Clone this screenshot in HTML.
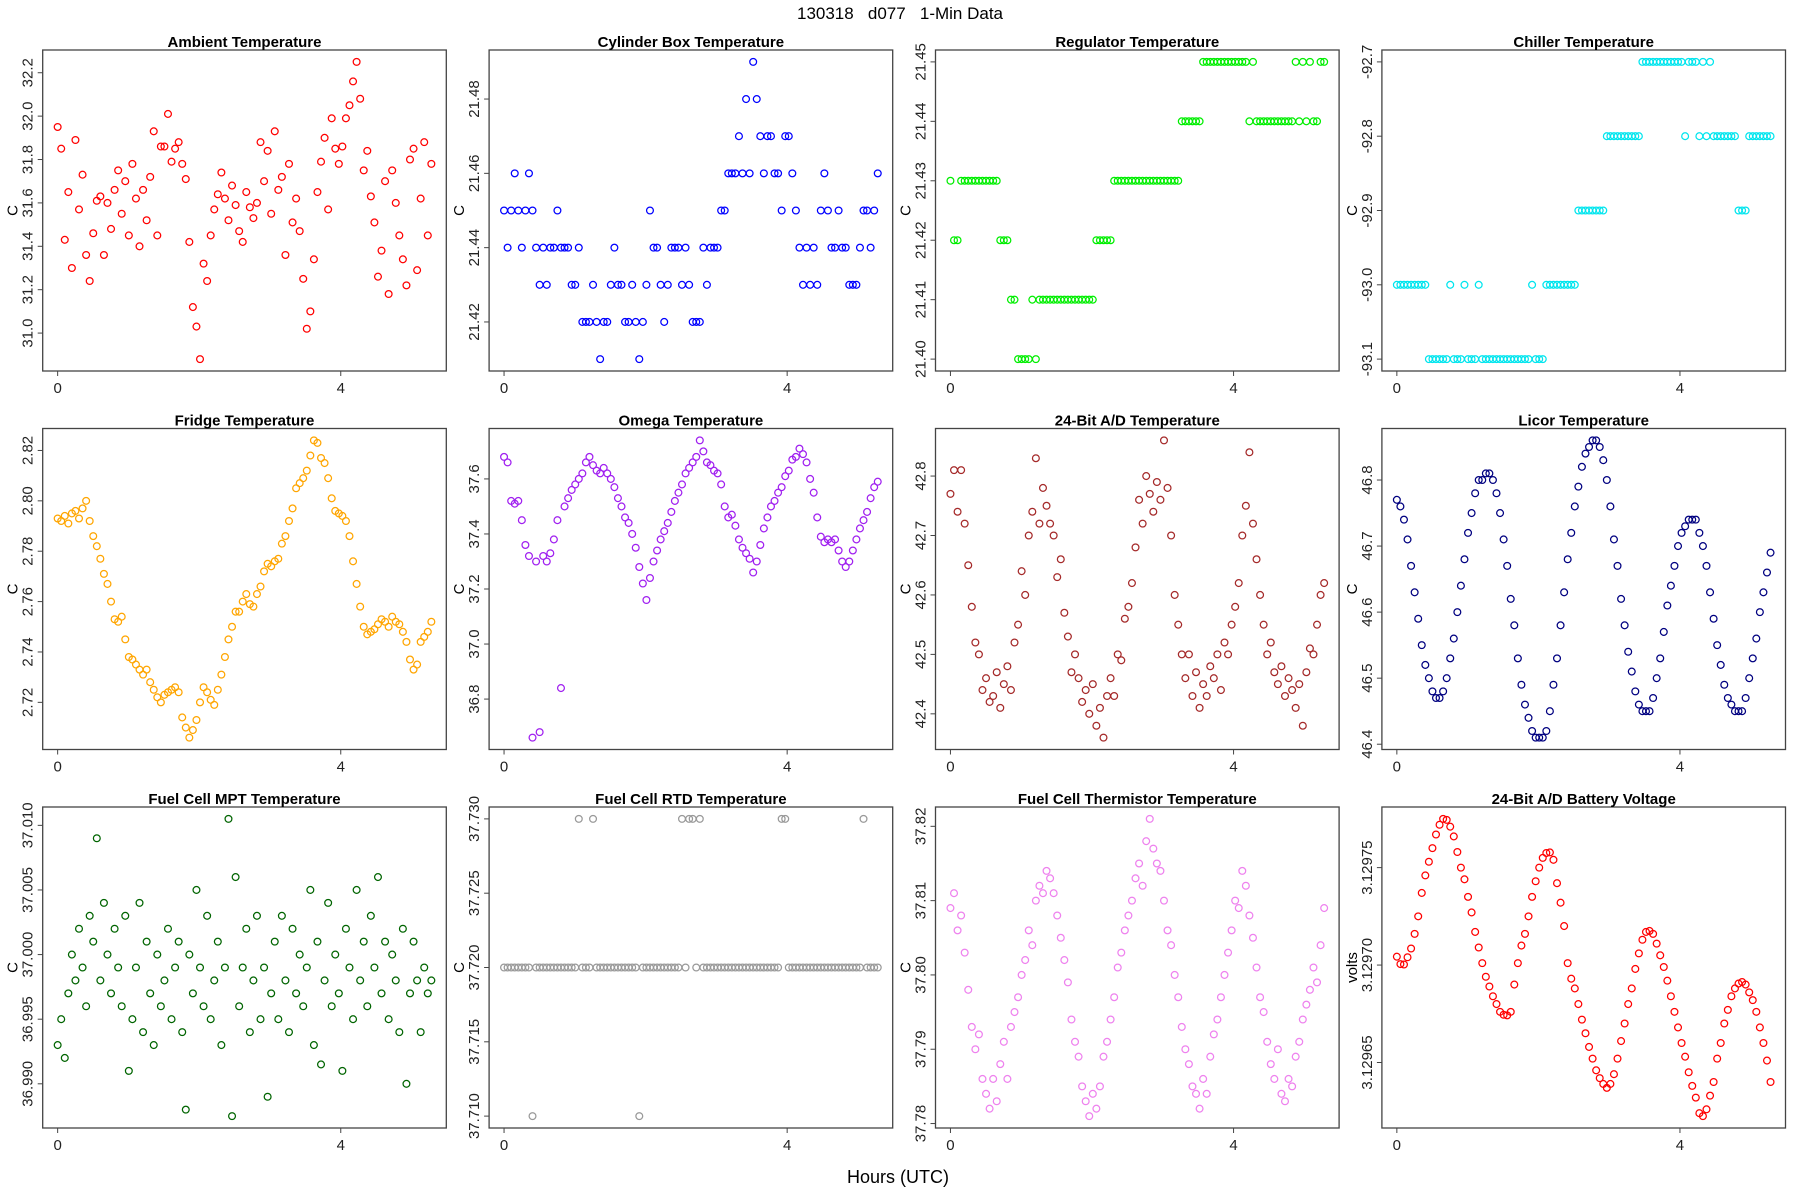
<!DOCTYPE html>
<html><head><meta charset="utf-8"><title>130318 d077 1-Min Data</title>
<style>
html,body{margin:0;padding:0;background:#fff;}
svg{display:block;font-family:"Liberation Sans",sans-serif;}
</style></head>
<body>
<svg id="fig" width="1800" height="1200" viewBox="0 0 1800 1200" xmlns="http://www.w3.org/2000/svg">
<rect width="1800" height="1200" fill="#fff"/>
<text x="900" y="19" text-anchor="middle" font-size="17" fill="#000" style="white-space:pre" xml:space="preserve">130318   d077   1-Min Data</text>
<text x="898" y="1183" text-anchor="middle" font-size="18" fill="#000">Hours (UTC)</text>
</svg>
<script>
const N = 106;
const hourSpan = 5.28;
const hours = Array.from({length: N}, (_, i) => i * hourSpan / (N - 1));
const xTicks = [0, 4];

const ambient = [31.95,31.85,31.43,31.65,31.30,31.89,31.57,31.73,31.36,31.24,
31.46,31.61,31.63,31.36,31.60,31.48,31.66,31.75,31.55,31.70,
31.45,31.78,31.62,31.40,31.66,31.52,31.72,31.93,31.45,31.86,
31.86,32.01,31.79,31.85,31.88,31.78,31.71,31.42,31.12,31.03,
30.88,31.32,31.24,31.45,31.57,31.64,31.74,31.62,31.52,31.68,
31.59,31.47,31.42,31.65,31.58,31.53,31.60,31.88,31.70,31.84,
31.55,31.93,31.66,31.72,31.36,31.78,31.51,31.62,31.47,31.25,
31.02,31.10,31.34,31.65,31.79,31.90,31.57,31.99,31.85,31.78,
31.86,31.99,32.05,32.16,32.25,32.08,31.75,31.84,31.63,31.51,
31.26,31.38,31.70,31.18,31.75,31.60,31.45,31.34,31.22,31.80,
31.85,31.29,31.62,31.88,31.45,31.78];
const ambientTicks = ["31.0","31.2","31.4","31.6","31.8","32.0","32.2"];

const cylinder = [21.45,21.44,21.45,21.46,21.45,21.44,21.45,21.46,21.45,21.44,
21.43,21.44,21.43,21.44,21.44,21.45,21.44,21.44,21.44,21.43,
21.43,21.44,21.42,21.42,21.42,21.43,21.42,21.41,21.42,21.42,
21.43,21.44,21.43,21.43,21.42,21.42,21.43,21.42,21.41,21.42,
21.43,21.45,21.44,21.44,21.43,21.42,21.43,21.44,21.44,21.44,
21.43,21.44,21.43,21.42,21.42,21.42,21.44,21.43,21.44,21.44,
21.44,21.45,21.45,21.46,21.46,21.46,21.47,21.46,21.48,21.46,
21.49,21.48,21.47,21.46,21.47,21.47,21.46,21.46,21.45,21.47,
21.47,21.46,21.45,21.44,21.43,21.44,21.43,21.44,21.43,21.45,
21.46,21.45,21.44,21.44,21.45,21.44,21.44,21.43,21.43,21.43,
21.44,21.45,21.45,21.44,21.45,21.46];
const cylinderTicks = ["21.42","21.44","21.46","21.48"];

const regulator = [21.43,21.42,21.42,21.43,21.43,21.43,21.43,21.43,21.43,21.43,
21.43,21.43,21.43,21.43,21.42,21.42,21.42,21.41,21.41,21.40,
21.40,21.40,21.40,21.41,21.40,21.41,21.41,21.41,21.41,21.41,
21.41,21.41,21.41,21.41,21.41,21.41,21.41,21.41,21.41,21.41,
21.41,21.42,21.42,21.42,21.42,21.42,21.43,21.43,21.43,21.43,
21.43,21.43,21.43,21.43,21.43,21.43,21.43,21.43,21.43,21.43,
21.43,21.43,21.43,21.43,21.43,21.44,21.44,21.44,21.44,21.44,
21.44,21.45,21.45,21.45,21.45,21.45,21.45,21.45,21.45,21.45,
21.45,21.45,21.45,21.45,21.44,21.45,21.44,21.44,21.44,21.44,
21.44,21.44,21.44,21.44,21.44,21.44,21.44,21.45,21.44,21.45,
21.44,21.45,21.44,21.44,21.45,21.45];
const regulatorTicks = ["21.40","21.41","21.42","21.43","21.44","21.45"];

const chiller = [-93.0,-93.0,-93.0,-93.0,-93.0,-93.0,-93.0,-93.0,-93.0,-93.1,
-93.1,-93.1,-93.1,-93.1,-93.1,-93.0,-93.1,-93.1,-93.1,-93.0,
-93.1,-93.1,-93.1,-93.0,-93.1,-93.1,-93.1,-93.1,-93.1,-93.1,
-93.1,-93.1,-93.1,-93.1,-93.1,-93.1,-93.1,-93.1,-93.0,-93.1,
-93.1,-93.1,-93.0,-93.0,-93.0,-93.0,-93.0,-93.0,-93.0,-93.0,
-93.0,-92.9,-92.9,-92.9,-92.9,-92.9,-92.9,-92.9,-92.9,-92.8,
-92.8,-92.8,-92.8,-92.8,-92.8,-92.8,-92.8,-92.8,-92.8,-92.7,
-92.7,-92.7,-92.7,-92.7,-92.7,-92.7,-92.7,-92.7,-92.7,-92.7,
-92.7,-92.8,-92.7,-92.7,-92.7,-92.8,-92.7,-92.8,-92.7,-92.8,
-92.8,-92.8,-92.8,-92.8,-92.8,-92.8,-92.9,-92.9,-92.9,-92.8,
-92.8,-92.8,-92.8,-92.8,-92.8,-92.8];
const chillerTicks = ["-93.1","-93.0","-92.9","-92.8","-92.7"];

const fridge = [2.793,2.792,2.794,2.791,2.795,2.796,2.793,2.797,2.800,2.792,
2.786,2.782,2.777,2.771,2.767,2.760,2.753,2.752,2.754,2.745,
2.738,2.737,2.735,2.733,2.731,2.733,2.728,2.725,2.722,2.720,
2.723,2.724,2.725,2.726,2.724,2.714,2.710,2.706,2.709,2.713,
2.720,2.726,2.724,2.721,2.719,2.725,2.731,2.738,2.745,2.750,
2.756,2.756,2.760,2.763,2.759,2.758,2.763,2.766,2.772,2.775,
2.774,2.776,2.777,2.783,2.786,2.792,2.797,2.805,2.807,2.809,
2.812,2.818,2.824,2.823,2.817,2.815,2.809,2.801,2.796,2.795,
2.794,2.792,2.786,2.776,2.767,2.758,2.750,2.747,2.748,2.749,
2.751,2.753,2.752,2.750,2.754,2.752,2.751,2.748,2.744,2.737,
2.733,2.735,2.744,2.746,2.748,2.752];
const fridgeTicks = ["2.72","2.74","2.76","2.78","2.80","2.82"];

const omega = [37.68,37.66,37.52,37.51,37.52,37.45,37.36,37.32,36.66,37.30,
36.68,37.32,37.30,37.33,37.38,37.45,36.84,37.50,37.53,37.56,
37.58,37.60,37.62,37.66,37.68,37.65,37.63,37.62,37.64,37.62,
37.60,37.57,37.53,37.50,37.46,37.44,37.40,37.35,37.28,37.22,
37.16,37.24,37.30,37.34,37.38,37.41,37.44,37.48,37.52,37.55,
37.58,37.62,37.64,37.66,37.68,37.74,37.70,37.66,37.65,37.63,
37.62,37.58,37.50,37.46,37.47,37.43,37.38,37.35,37.33,37.31,
37.26,37.30,37.36,37.42,37.46,37.50,37.52,37.55,37.57,37.61,
37.63,37.67,37.68,37.71,37.69,37.66,37.60,37.55,37.46,37.39,
37.37,37.38,37.37,37.38,37.34,37.30,37.28,37.30,37.34,37.38,
37.42,37.45,37.48,37.53,37.57,37.59];
const omegaTicks = ["36.8","37.0","37.2","37.4","37.6"];

const adTemp = [42.77,42.81,42.74,42.81,42.72,42.65,42.58,42.52,42.50,42.44,
42.46,42.42,42.43,42.47,42.41,42.45,42.48,42.44,42.52,42.55,
42.64,42.60,42.70,42.74,42.83,42.72,42.78,42.75,42.72,42.70,
42.63,42.66,42.57,42.53,42.47,42.50,42.46,42.42,42.44,42.40,
42.45,42.38,42.41,42.36,42.43,42.46,42.43,42.50,42.49,42.56,
42.58,42.62,42.68,42.76,42.72,42.80,42.77,42.74,42.79,42.76,
42.86,42.78,42.70,42.60,42.55,42.50,42.46,42.50,42.43,42.47,
42.41,42.45,42.43,42.48,42.46,42.50,42.44,42.52,42.50,42.55,
42.58,42.62,42.70,42.75,42.84,42.72,42.66,42.60,42.55,42.50,
42.52,42.47,42.45,42.48,42.43,42.46,42.44,42.41,42.45,42.38,
42.47,42.51,42.50,42.55,42.60,42.62];
const adTempTicks = ["42.4","42.5","42.6","42.7","42.8"];

const licor = [46.77,46.76,46.74,46.71,46.67,46.63,46.59,46.55,46.52,46.50,46.48,46.47,46.47,
46.48,46.50,46.53,46.56,46.60,46.64,46.68,46.72,46.75,46.78,46.80,46.80,46.81,46.81,
46.80,46.78,46.75,46.71,46.67,46.62,46.58,46.53,46.49,46.46,46.44,46.42,46.41,46.41,46.41,
46.42,46.45,46.49,46.53,46.58,46.63,46.68,46.72,46.76,46.79,46.82,46.84,46.85,46.86,46.86,
46.85,46.83,46.80,46.76,46.71,46.67,46.62,46.58,46.54,46.51,46.48,46.46,46.45,46.45,46.45,
46.47,46.50,46.53,46.57,46.61,46.64,46.67,46.70,46.72,46.73,46.74,46.74,46.74,
46.72,46.70,46.67,46.63,46.59,46.55,46.52,46.49,46.47,46.46,46.45,46.45,46.45,
46.47,46.50,46.53,46.56,46.60,46.63,46.66,46.69];
const licorTicks = ["46.4","46.5","46.6","46.7","46.8"];

const mpt = [36.993,36.995,36.992,36.997,37.000,36.998,37.002,36.999,36.996,37.003,
37.001,37.009,36.998,37.004,37.000,36.997,37.002,36.999,36.996,37.003,
36.991,36.995,36.999,37.004,36.994,37.001,36.997,36.993,37.000,36.996,
36.998,37.002,36.995,36.999,37.001,36.994,36.988,37.000,36.997,37.005,
36.999,36.996,37.003,36.995,36.998,37.001,36.993,36.999,37.0105,36.9875,
37.006,36.996,36.999,37.002,36.994,36.998,37.003,36.995,36.999,36.989,
36.997,37.001,36.995,37.003,36.998,36.994,37.002,36.997,37.000,36.996,
36.999,37.005,36.993,37.001,36.9915,36.998,37.004,36.996,37.000,36.997,
36.991,37.002,36.999,36.995,37.005,36.998,37.001,36.996,37.003,36.999,
37.006,36.997,37.001,36.995,37.000,36.998,36.994,37.002,36.990,36.997,
37.001,36.998,36.994,36.999,36.997,36.998];
const mptTicks = ["36.990","36.995","37.000","37.005","37.010"];

const rtd = [37.72,37.72,37.72,37.72,37.72,37.72,37.72,37.72,37.71,37.72,
37.72,37.72,37.72,37.72,37.72,37.72,37.72,37.72,37.72,37.72,
37.72,37.73,37.72,37.72,37.72,37.73,37.72,37.72,37.72,37.72,
37.72,37.72,37.72,37.72,37.72,37.72,37.72,37.72,37.71,37.72,
37.72,37.72,37.72,37.72,37.72,37.72,37.72,37.72,37.72,37.72,
37.73,37.72,37.73,37.73,37.72,37.73,37.72,37.72,37.72,37.72,
37.72,37.72,37.72,37.72,37.72,37.72,37.72,37.72,37.72,37.72,
37.72,37.72,37.72,37.72,37.72,37.72,37.72,37.72,37.73,37.73,
37.72,37.72,37.72,37.72,37.72,37.72,37.72,37.72,37.72,37.72,
37.72,37.72,37.72,37.72,37.72,37.72,37.72,37.72,37.72,37.72,
37.72,37.73,37.72,37.72,37.72,37.72];
const rtdTicks = ["37.710","37.715","37.720","37.725","37.730"];

const thermistor = [37.809,37.811,37.806,37.808,37.803,37.798,37.793,37.790,37.792,37.786,
37.784,37.782,37.786,37.783,37.788,37.791,37.786,37.793,37.795,37.797,
37.800,37.802,37.806,37.804,37.810,37.812,37.811,37.814,37.813,37.811,
37.808,37.805,37.802,37.799,37.794,37.791,37.789,37.785,37.783,37.781,
37.784,37.782,37.785,37.789,37.791,37.794,37.797,37.801,37.803,37.806,
37.808,37.810,37.813,37.815,37.812,37.818,37.821,37.817,37.815,37.814,
37.810,37.806,37.804,37.800,37.797,37.793,37.790,37.788,37.785,37.784,
37.782,37.786,37.784,37.789,37.792,37.794,37.797,37.800,37.803,37.806,
37.810,37.809,37.814,37.812,37.808,37.805,37.801,37.797,37.795,37.791,
37.788,37.786,37.790,37.784,37.783,37.786,37.785,37.789,37.791,37.794,
37.796,37.798,37.801,37.799,37.804,37.809];
const thermistorTicks = ["37.78","37.79","37.80","37.81","37.82"];

const battery = [3.1297043,3.1297005,3.1297003,3.1297040,3.1297085,3.1297160,3.1297250,3.1297370,3.1297460,3.1297530,
3.1297600,3.1297670,3.1297720,3.1297750,3.1297745,3.1297710,3.1297660,3.1297580,3.1297500,3.1297440,
3.1297350,3.1297270,3.1297170,3.1297090,3.1297010,3.1296940,3.1296890,3.1296840,3.1296800,3.1296760,
3.1296745,3.1296742,3.1296760,3.1296900,3.1297010,3.1297100,3.1297160,3.1297250,3.1297350,3.1297430,
3.1297500,3.1297550,3.1297575,3.1297578,3.1297540,3.1297420,3.1297320,3.1297200,3.1297010,3.1296930,
3.1296880,3.1296800,3.1296720,3.1296650,3.1296580,3.1296520,3.1296460,3.1296420,3.1296390,3.1296370,
3.1296390,3.1296440,3.1296520,3.1296610,3.1296700,3.1296800,3.1296880,3.1296980,3.1297060,3.1297130,
3.1297170,3.1297175,3.1297160,3.1297110,3.1297050,3.1296990,3.1296920,3.1296840,3.1296760,3.1296680,
3.1296600,3.1296530,3.1296450,3.1296380,3.1296320,3.1296240,3.1296225,3.1296260,3.1296330,3.1296400,
3.1296520,3.1296600,3.1296700,3.1296770,3.1296840,3.1296880,3.1296905,3.1296913,3.1296900,3.1296860,
3.1296820,3.1296760,3.1296680,3.1296600,3.1296510,3.1296400];
const batteryTicks = ["3.12965","3.12970","3.12975"];

const panels = [
 {name:"ambient-temperature", title:"Ambient Temperature", ylab:"C", data:ambient, ticks:ambientTicks, color:"#ff0000"},
 {name:"cylinder-box-temperature", title:"Cylinder Box Temperature", ylab:"C", data:cylinder, ticks:cylinderTicks, color:"#0000ff"},
 {name:"regulator-temperature", title:"Regulator Temperature", ylab:"C", data:regulator, ticks:regulatorTicks, color:"#00ee00"},
 {name:"chiller-temperature", title:"Chiller Temperature", ylab:"C", data:chiller, ticks:chillerTicks, color:"#00e5ee"},
 {name:"fridge-temperature", title:"Fridge Temperature", ylab:"C", data:fridge, ticks:fridgeTicks, color:"#ffa500"},
 {name:"omega-temperature", title:"Omega Temperature", ylab:"C", data:omega, ticks:omegaTicks, color:"#a020f0"},
 {name:"ad-temperature", title:"24-Bit A/D Temperature", ylab:"C", data:adTemp, ticks:adTempTicks, color:"#a52a2a"},
 {name:"licor-temperature", title:"Licor Temperature", ylab:"C", data:licor, ticks:licorTicks, color:"#000080"},
 {name:"fuel-cell-mpt-temperature", title:"Fuel Cell MPT Temperature", ylab:"C", data:mpt, ticks:mptTicks, color:"#006400"},
 {name:"fuel-cell-rtd-temperature", title:"Fuel Cell RTD Temperature", ylab:"C", data:rtd, ticks:rtdTicks, color:"#999999"},
 {name:"fuel-cell-thermistor-temperature", title:"Fuel Cell Thermistor Temperature", ylab:"C", data:thermistor, ticks:thermistorTicks, color:"#ee82ee"},
 {name:"ad-battery-voltage", title:"24-Bit A/D Battery Voltage", ylab:"volts", data:battery, ticks:batteryTicks, color:"#ff0000"}
];

const NS = "http://www.w3.org/2000/svg";
const svg = document.getElementById("fig");
function mk(tag, attrs, parent) {
  const e = document.createElementNS(NS, tag);
  for (const k in attrs) e.setAttribute(k, attrs[k]);
  parent.appendChild(e);
  return e;
}
const L0 = 42.7, T0 = 50, DX = 446.4, DY = 378.5, W = 403.6, H = 321;
panels.forEach((p, k) => {
  const col = k % 4, row = Math.floor(k / 4);
  const left = L0 + col * DX, top = T0 + row * DY;
  const g = mk("g", {}, svg);
  
  
  const xmin = Math.min(...hours), xmax = Math.max(...hours);
  const xpad = (xmax - xmin) * 0.04;
  const xs = v => left + (v - (xmin - xpad)) / ((xmax - xmin) + 2 * xpad) * W;
  const ymin = Math.min(...p.data), ymax = Math.max(...p.data);
  const ypad = (ymax - ymin) * 0.04;
  const ys = v => top + H - (v - (ymin - ypad)) / ((ymax - ymin) + 2 * ypad) * H;

  const pts = mk("g", {fill: "none", stroke: p.color, "stroke-width": 1.25}, g);
  
  
  p.data.forEach((v, i) => {
    const c = mk("circle", {cx: xs(hours[i]).toFixed(2), cy: ys(v).toFixed(2), r: 3.4}, pts);
    
    
  });

  const box = mk("rect", {x: left, y: top, width: W, height: H, fill: "none", stroke: "#444", "stroke-width": 1.3}, g);
  
  

  const t = mk("text", {x: left + W / 2, y: top - 3, "text-anchor": "middle", "font-size": 15, "font-weight": "bold", fill: "#000"}, g);
  t.textContent = p.title;
  
  

  const yl = mk("text", {x: 0, y: 0, "text-anchor": "middle", "font-size": 15, fill: "#000", transform: `translate(${left - 25},${top + H / 2}) rotate(-90)`}, g);
  yl.textContent = p.ylab;
  
  

  p.ticks.forEach(lbl => {
    const y = ys(parseFloat(lbl));
    const tk = mk("line", {x1: left, x2: left - 5, y1: y, y2: y, stroke: "#444", "stroke-width": 1}, g);
    
    
    const tl = mk("text", {x: 0, y: 0, "text-anchor": "middle", "font-size": 15, fill: "#222", transform: `translate(${left - 10},${y}) rotate(-90)`}, g);
    tl.textContent = lbl;
    
    
  });
  xTicks.forEach(v => {
    const x = xs(v);
    const tk = mk("line", {x1: x, x2: x, y1: top + H, y2: top + H + 5, stroke: "#444", "stroke-width": 1}, g);
    
    
    const tl = mk("text", {x: x, y: top + H + 22, "text-anchor": "middle", "font-size": 15, fill: "#222"}, g);
    tl.textContent = String(v);
    
    
  });
});
</script>
</body></html>
